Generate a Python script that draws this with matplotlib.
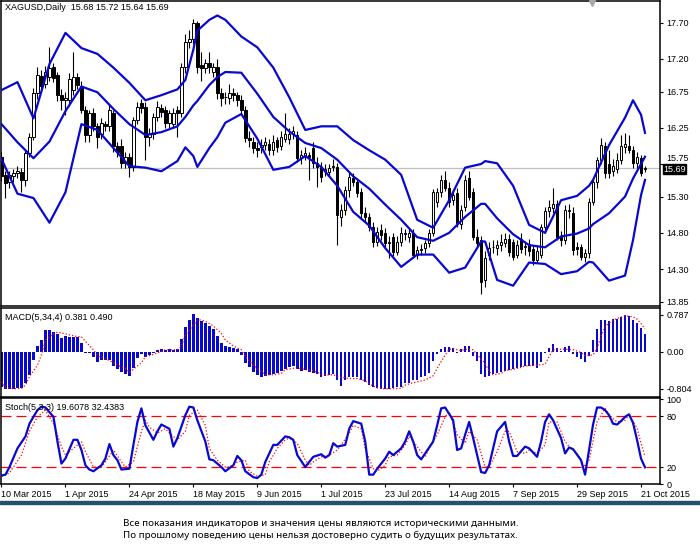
import numpy as np
import matplotlib
matplotlib.use('Agg')
import matplotlib.pyplot as plt
from matplotlib.patches import Rectangle
from matplotlib.transforms import ScaledTranslation

plt.rcParams['font.family'] = ['Liberation Sans', 'DejaVu Sans']
plt.rcParams['font.size'] = 6.5

# ---- XAGUSD daily candles (bar 0 = 10 Mar 2015) ----
opens = [15.85,15.60,15.50,15.58,15.62,15.64,15.53,15.90,16.12,16.73,
         16.97,16.85,16.95,17.09,16.98,16.70,16.63,16.63,16.77,16.95,
         16.82,16.50,16.15,16.45,16.27,16.17,16.30,16.27,16.45,16.00,
         16.00,15.76,15.85,15.71,16.36,16.59,16.54,16.12,16.17,16.40,
         16.52,16.50,16.31,16.30,16.50,16.45,17.09,17.43,17.48,17.70,
         17.12,17.07,17.14,17.02,17.09,16.73,16.67,16.66,16.73,16.70,
         16.63,16.50,16.11,16.06,15.97,15.98,16.01,16.03,15.94,16.08,
         16.00,16.10,16.10,16.17,16.15,15.83,15.88,15.87,15.97,15.76,
         15.71,15.66,15.64,15.71,15.71,15.02,15.12,15.39,15.56,15.50,
         15.36,15.07,15.02,14.88,14.68,14.84,14.80,14.66,14.74,14.54,
         14.68,14.78,14.74,14.80,14.50,14.56,14.59,14.66,14.80,15.22,
         15.36,15.53,15.42,15.25,15.35,14.92,15.15,15.56,15.36,14.74,
         14.70,14.15,14.50,14.61,14.59,14.63,14.66,14.72,14.67,14.50,
         14.72,14.60,14.65,14.58,14.43,14.50,14.88,15.10,15.14,15.20,
         14.74,14.70,15.10,15.07,14.60,14.60,14.47,14.52,15.23,15.50,
         15.80,16.00,15.75,15.65,15.68,15.80,15.98,16.00,15.95,15.76,
         15.83,15.68]
highs = [15.92,15.66,15.65,15.68,15.72,15.70,15.95,16.18,16.80,17.09,
         17.05,17.10,17.37,17.15,17.02,16.78,16.75,17.00,17.30,17.00,
         16.90,16.55,16.50,16.52,16.32,16.38,16.35,16.58,16.50,16.05,
         16.10,15.92,15.90,16.40,16.60,16.65,16.60,16.25,16.45,16.62,
         16.58,16.55,16.50,16.52,16.55,17.15,17.55,17.60,17.75,17.72,
         17.30,17.20,17.30,17.15,17.20,16.80,16.75,16.85,16.80,16.75,
         16.70,16.55,16.20,16.12,16.05,16.10,16.12,16.10,16.15,16.12,
         16.20,16.45,16.25,16.28,16.20,15.95,15.98,15.92,16.05,15.85,
         15.78,15.75,15.75,15.82,15.76,15.20,15.45,15.65,15.62,15.55,
         15.42,15.15,15.08,14.95,14.88,14.92,14.86,14.75,14.80,14.75,
         14.88,14.85,14.85,14.85,14.62,14.65,14.70,14.85,15.40,15.42,
         15.60,15.65,15.50,15.40,15.42,15.18,15.60,15.65,15.42,14.85,
         14.75,14.55,14.68,14.70,14.70,14.78,14.80,14.78,14.72,14.70,
         14.80,14.68,14.72,14.62,14.62,14.92,15.15,15.25,15.42,15.25,
         14.82,15.18,15.20,15.15,14.68,14.65,14.58,15.28,15.55,15.85,
         16.11,16.05,15.95,15.82,15.90,16.15,16.18,16.15,16.00,15.92,
         15.88,15.72]
lows = [15.52,15.28,15.42,15.50,15.55,15.37,15.45,15.85,16.08,16.65,
        16.75,16.80,16.90,16.88,16.62,16.50,16.43,16.55,16.70,16.78,
        16.45,16.05,16.05,16.20,15.97,16.10,16.20,16.20,15.92,15.85,
        15.70,15.70,15.57,15.65,16.30,16.45,15.81,16.00,16.10,16.35,
        16.40,16.25,16.25,16.25,16.12,16.40,17.00,17.35,17.40,17.00,
        16.90,17.00,17.00,16.95,16.65,16.55,16.58,16.58,16.62,16.55,
        16.45,16.05,15.98,15.90,15.85,15.90,15.95,15.88,15.88,15.92,
        15.95,16.05,16.02,16.10,15.78,15.75,15.80,15.53,15.70,15.43,
        15.50,15.58,15.58,15.65,14.63,14.90,15.05,15.30,15.45,15.30,
        15.00,14.95,14.82,14.60,14.62,14.70,14.60,14.45,14.48,14.50,
        14.62,14.70,14.68,14.45,14.44,14.50,14.52,14.60,14.75,15.15,
        15.30,15.38,15.15,15.18,14.88,14.85,15.10,15.25,14.70,14.60,
        13.96,14.05,14.42,14.52,14.50,14.55,14.60,14.48,14.42,14.45,
        14.52,14.50,14.48,14.35,14.38,14.45,14.80,15.02,15.08,14.70,
        14.62,14.65,15.00,14.50,14.50,14.42,14.40,14.45,15.18,15.42,
        15.75,15.55,15.55,15.58,15.62,15.75,15.90,15.90,15.70,15.70,
        15.58,15.64]
closes = [15.58,15.49,15.60,15.63,15.66,15.53,15.90,16.12,16.73,16.98,
          16.82,17.02,17.08,16.94,16.70,16.63,16.66,16.93,16.95,16.84,
          16.50,16.15,16.45,16.27,16.12,16.31,16.27,16.50,16.00,15.92,
          15.76,15.85,15.71,16.36,16.54,16.52,16.12,16.17,16.40,16.54,
          16.47,16.31,16.45,16.45,16.45,17.09,17.43,17.48,17.70,17.09,
          17.07,17.14,17.09,17.09,16.73,16.66,16.68,16.73,16.70,16.63,
          16.50,16.11,16.08,15.97,15.95,16.01,16.05,15.94,16.05,15.98,
          16.12,16.17,16.17,16.20,15.83,15.87,15.90,15.84,15.76,15.71,
          15.57,15.68,15.70,15.72,15.05,15.12,15.39,15.57,15.50,15.35,
          15.07,15.02,14.88,14.68,14.81,14.77,14.66,14.68,14.54,14.68,
          14.80,14.80,14.80,14.50,14.56,14.57,14.66,14.80,15.36,15.36,
          15.53,15.42,15.22,15.32,14.94,15.12,15.53,15.30,14.74,14.66,
          14.12,14.45,14.59,14.60,14.63,14.68,14.72,14.53,14.47,14.63,
          14.58,14.62,14.55,14.42,14.55,14.88,15.10,15.16,15.20,14.74,
          14.70,15.12,15.12,14.56,14.58,14.47,14.52,15.23,15.50,15.80,
          16.01,15.62,15.62,15.72,15.80,16.00,16.02,15.95,15.76,15.85,
          15.63,15.69]

# ---- Bollinger bands ----
band_bars = [0, 4, 8, 12, 16, 20, 24, 28, 32, 36, 40, 44, 46, 48, 49, 52, 54, 56,
             60, 64, 68, 72, 76, 80, 84, 88, 92, 96, 100, 104, 108, 112, 116, 120,
             121, 124, 128, 132, 136, 140, 144, 147, 148, 152, 156, 158, 160, 161]
bb_upper = [16.77, 16.88, 16.38, 17.13, 17.56, 17.35, 17.27, 17.08, 16.87, 16.63,
            16.70, 16.78, 16.91, 17.33, 17.59, 17.74, 17.80, 17.74, 17.51, 17.36,
            17.08, 16.67, 16.22, 16.27, 16.27, 16.08, 15.94, 15.81, 15.60, 14.98,
            14.87, 15.25, 15.70, 15.75, 15.79, 15.76, 15.45, 14.91, 14.80, 15.25,
            15.31, 15.45, 15.53, 16.01, 16.39, 16.63, 16.43, 16.18]
bb_middle = [16.30, 16.05, 15.83, 16.06, 16.48, 16.82, 16.74, 16.51, 16.30, 16.15,
             16.19, 16.27, 16.40, 16.56, 16.62, 16.84, 16.95, 17.02, 17.01, 16.72,
             16.40, 16.20, 16.04, 15.97, 15.81, 15.58, 15.41, 15.19, 14.98, 14.74,
             14.69, 14.80, 15.02, 15.20, 15.20, 15.00, 14.78, 14.63, 14.60, 14.75,
             14.79, 14.86, 14.92, 15.07, 15.30, 15.55, 15.75, 15.85]
bb_lower = [15.82, 15.34, 15.28, 14.94, 15.36, 16.30, 16.22, 15.97, 15.72, 15.70,
            15.65, 15.79, 15.98, 15.86, 15.71, 15.97, 16.12, 16.32, 16.44, 16.10,
            15.67, 15.71, 15.86, 15.71, 15.45, 15.09, 14.90, 14.59, 14.33, 14.50,
            14.50, 14.25, 14.32, 14.68, 14.68, 14.15, 14.07, 14.39, 14.37, 14.23,
            14.27, 14.40, 14.39, 14.14, 14.21, 14.70, 15.32, 15.53]

# ---- MACD(5,34,4) ----
macd_hist = [-0.77,-0.80,-0.80,-0.80,-0.79,-0.79,-0.68,-0.50,-0.19,0.11,
             0.25,0.47,0.47,0.43,0.38,0.29,0.34,0.32,0.32,0.31,
             0.19,-0.02,-0.04,-0.12,-0.22,-0.18,-0.19,-0.19,-0.32,-0.38,
             -0.43,-0.48,-0.52,-0.36,-0.14,-0.05,-0.12,-0.07,-0.02,0.04,
             0.06,0.04,0.05,0.04,0.05,0.27,0.52,0.67,0.80,0.72,
             0.65,0.61,0.55,0.48,0.34,0.19,0.12,0.09,0.07,0.06,
             -0.07,-0.24,-0.34,-0.43,-0.50,-0.54,-0.52,-0.50,-0.48,-0.47,
             -0.41,-0.38,-0.34,-0.32,-0.38,-0.41,-0.39,-0.43,-0.45,-0.48,
             -0.54,-0.52,-0.50,-0.48,-0.62,-0.74,-0.61,-0.55,-0.55,-0.55,
             -0.61,-0.65,-0.72,-0.76,-0.79,-0.80,-0.80,-0.80,-0.79,-0.76,
             -0.77,-0.68,-0.67,-0.62,-0.61,-0.54,-0.52,-0.45,-0.20,-0.05,
             0.05,0.09,0.09,0.07,-0.03,0.05,0.12,0.12,-0.09,-0.21,
             -0.48,-0.54,-0.52,-0.48,-0.47,-0.43,-0.41,-0.39,-0.38,-0.36,
             -0.34,-0.32,-0.31,-0.32,-0.36,-0.22,-0.04,0.07,0.16,0.07,
             0.02,0.09,0.12,-0.05,-0.12,-0.16,-0.23,-0.09,0.25,0.48,
             0.68,0.67,0.65,0.70,0.70,0.74,0.787,0.76,0.68,0.61,
             0.50,0.381]
macd_sig_bars = [0,1,3,5,6,7,9,10,11,13,14,16,19,20,21,23,24,26,27,29,31,32,33,35,
                 36,38,40,41,44,45,46,48,49,50,51,53,55,56,58,60,61,63,65,66,68,70,
                 71,73,75,76,78,80,81,83,85,87,89,91,92,94,96,98,100,101,103,105,106,
                 108,109,111,112,113,115,116,118,119,121,122,123,125,126,128,130,131,
                 134,136,137,138,140,141,143,145,146,148,149,150,151,153,155,156,158,
                 159,160,161]
macd_sig = [-0.65,-0.77,-0.80,-0.79,-0.72,-0.54,-0.29,-0.07,0.25,0.38,0.42,0.38,0.32,
            0.32,0.22,0.04,-0.09,-0.16,-0.19,-0.29,-0.36,-0.45,-0.38,-0.24,-0.11,-0.06,
            0.0,0.04,0.04,0.11,0.36,0.57,0.68,0.68,0.65,0.55,0.39,0.25,0.12,0.04,-0.11,
            -0.29,-0.43,-0.50,-0.50,-0.47,-0.39,-0.36,-0.36,-0.39,-0.41,-0.48,-0.50,
            -0.50,-0.55,-0.58,-0.58,-0.63,-0.70,-0.78,-0.80,-0.80,-0.79,-0.72,-0.67,
            -0.63,-0.61,-0.52,-0.36,-0.07,0.05,0.06,0.02,0.05,0.04,-0.07,-0.25,-0.43,
            -0.50,-0.47,-0.41,-0.38,-0.34,-0.31,-0.29,-0.27,-0.11,0.04,0.05,0.05,0.04,
            -0.02,-0.09,-0.07,0.07,0.32,0.54,0.68,0.74,0.77,0.75,0.70,0.60,0.49]

# ---- Stochastic(5,3,3) ----
stoch_k_bars = [0,1,2,4,6,7,9,10,11,13,14,15,16,18,19,20,21,22,23,25,
                26,27,28,29,30,32,33,34,35,36,38,39,40,42,43,44,46,47,48,49,
                51,52,53,55,56,58,59,60,61,63,64,65,66,68,69,71,72,73,74,76,
                77,78,80,81,82,83,84,86,87,88,90,91,92,93,94,96,97,98,100,101,
                102,103,104,105,106,108,109,110,111,113,114,115,116,117,118,120,121,122,123,124,
                126,127,128,129,131,132,134,135,136,137,138,140,141,142,143,145,146,147,148,149,
                150,151,152,153,154,155,156,157,158,159,160,161]
stoch_k = [10,11,20,42,56,71,87,91,90,79,50,24,30,52,52,40,22,17,15,22,
           30,47,34,28,17,18,46,73,89,69,52,62,70,65,44,54,81,91,90,75,
           50,29,28,20,15,22,33,28,15,8,7,11,26,46,46,56,55,52,34,20,
           26,32,35,31,34,48,44,46,65,74,71,50,11,11,18,30,38,34,42,50,
           62,50,34,29,36,50,69,89,90,75,40,42,58,73,54,14,13,22,42,62,
           73,50,33,33,44,42,32,50,73,82,75,54,36,43,41,28,11,40,70,90,
           90,87,81,71,70,74,79,82,72,52,30,19.6078]
stoch_d_bars = [0,2,5,7,9,11,13,15,16,18,20,21,23,25,26,28,30,31,33,35,
                36,37,39,41,42,44,46,47,49,51,52,54,56,57,59,61,62,64,66,67,
                69,71,72,74,76,77,78,80,82,84,85,87,88,90,91,93,94,96,97,99,
                101,102,104,106,107,109,111,112,114,116,117,119,121,122,124,126,127,129,131,132,
                134,136,137,139,141,142,144,146,147,149,151,152,154,156,157,159,160,161]
stoch_d = [9,13,34,62,79,87,71,44,34,42,50,38,20,20,26,40,26,20,26,62,
           75,67,60,65,60,52,62,81,87,69,42,28,20,20,26,28,15,9,11,26,
           42,52,54,48,28,22,26,32,34,40,46,60,69,65,42,18,15,22,32,34,
           46,56,44,32,42,58,79,85,58,48,62,52,20,20,38,62,62,38,36,40,
           36,46,73,73,50,44,36,20,28,73,89,81,73,75,81,66,48,32.4383]
stoch_levels = [20, 80]

# ---- axis labels ----
date_ticks = [0, 16, 32, 48, 64, 80, 96, 112, 128, 144, 160]
date_labels = ['10 Mar 2015', '1 Apr 2015', '24 Apr 2015', '18 May 2015', '9 Jun 2015',
               '1 Jul 2015', '23 Jul 2015', '14 Aug 2015', '7 Sep 2015', '29 Sep 2015',
               '21 Oct 2015']
price_ticks = [17.70, 17.20, 16.75, 16.25, 15.75, 15.30, 14.80, 14.30, 13.85]
macd_ticks = [0.787, 0.0, -0.804]
macd_tick_labels = ['0.787', '0.00', '-0.804']
stoch_ticks = [100, 80, 20, 0]

header = 'XAGUSD,Daily  15.68 15.72 15.64 15.69'
macd_title = 'MACD(5,34,4) 0.381 0.490'
stoch_title = 'Stoch(5,3,3) 19.6078 32.4383'
footer = ['Все показания индикаторов и значения цены являются историческими данными.',
          'По прошлому поведению цены нельзя достоверно судить о будущих результатах.']

BLUE = '#0808d0'
W, H = 700, 552

fig = plt.figure(figsize=(7.0, 5.52), dpi=100)
fig.patch.set_facecolor('white')

def px_box(top, bottom, right=660, left=0.5):
    return [left / W, 1 - bottom / H, (right - left) / W, (bottom - top) / H]

ax = fig.add_axes(px_box(1, 306))
ax_m = fig.add_axes(px_box(308, 397), sharex=ax)
ax_s = fig.add_axes(px_box(398, 484), sharex=ax)

o = np.array(opens); c = np.array(closes)
hi = np.array(highs); lo = np.array(lows)
bars = np.arange(len(c))

# candles
ax.vlines(bars, lo, hi, color='black', lw=0.8, zorder=2)
body_lo = np.minimum(o, c)
body_h = np.maximum(np.abs(c - o), 0.004)
body_col = np.where(c >= o, 'white', 'black')
ax.bar(bars, body_h, bottom=body_lo, width=0.6, color=body_col,
       edgecolor='black', linewidth=0.7, zorder=3)

# bollinger bands
for band in (bb_upper, bb_middle, bb_lower):
    ax.plot(band_bars, band, color=BLUE, lw=1.6, zorder=4, solid_joinstyle='round')

ax.axhline(c[-1], color='#c0c0c0', lw=0.9, zorder=1)
ax.set_ylim(13.79, 18.0)
ax.set_yticks(price_ticks)
ax.set_yticklabels(['%.2f' % p for p in price_ticks])
ax.annotate('%.2f' % c[-1], xy=(1.0, c[-1]), xycoords=('axes fraction', 'data'),
            xytext=(2.5, -0.5), textcoords='offset points', ha='left', va='center',
            color='white', fontsize=6.5, zorder=10, annotation_clip=False,
            bbox=dict(boxstyle='square,pad=0.02', fc='black', ec='black'))
ax.plot(592 / 660, 0.995, marker='v', color='#a8a8a8', markersize=5,
        transform=ax.transAxes, clip_on=False, zorder=6)

# MACD
ax_m.bar(bars, macd_hist, width=0.62, color=BLUE, zorder=2)
ax_m.plot(macd_sig_bars, macd_sig, color='red', lw=0.9, ls=(0, (1, 1.6)), zorder=3)
ax_m.set_ylim(-0.976, 0.937)
ax_m.set_yticks(macd_ticks)
ax_m.set_yticklabels(macd_tick_labels)

# Stochastic
for lvl in stoch_levels:
    ax_s.axhline(lvl, color='red', lw=0.9, ls=(0, (8, 4)), zorder=1)
ax_s.plot(stoch_d_bars, stoch_d, color='red', lw=0.9, ls=(0, (1, 1.6)), zorder=3)
ax_s.plot(stoch_k_bars, stoch_k, color=BLUE, lw=1.6, zorder=4)
ax_s.set_ylim(0, 101.2)
ax_s.set_yticks(stoch_ticks)
ax_s.set_yticklabels([str(v) for v in stoch_ticks])
ylabs = ax_s.get_yticklabels()
ylabs[0].set_va('top')
ylabs[-1].set_va('bottom')

ax_s.set_xlim(-0.25, 164.75)
ax_s.set_xticks(date_ticks)
ax_s.set_xticklabels(date_labels, ha='left')

for a in (ax, ax_m, ax_s):
    a.set_facecolor('white')
    a.yaxis.tick_right()
    a.tick_params(axis='y', direction='out', length=2.5, width=0.8, pad=2,
                  labelsize=6.5, colors='black')
    for sp in a.spines.values():
        sp.set_linewidth(1.1)
        sp.set_color('black')
for a in (ax, ax_m):
    a.tick_params(axis='x', bottom=False, labelbottom=False)
ax_s.tick_params(axis='x', direction='out', length=2.5, width=0.8, pad=2, labelsize=6.5)

# the 15.75 label sits just above the current-price box, nudge it clear
lab_1575 = ax.get_yticklabels()[price_ticks.index(15.75)]
lab_1575.set_transform(lab_1575.get_transform()
                       + ScaledTranslation(0, 6.5 / 100, fig.dpi_scale_trans))

# panel captions
fig.text(5 / W, 1 - 8 / H, header, fontsize=6.5, va='center', ha='left', zorder=1)
fig.text(5 / W, 1 - 317 / H, macd_title, fontsize=6.5, va='center', ha='left')
fig.text(5 / W, 1 - 407 / H, stoch_title, fontsize=6.5, va='center', ha='left', zorder=0)

# bottom band and disclaimer
fig.add_artist(Rectangle((0, 1 - 504 / H), 1, 3 / H, transform=fig.transFigure,
                         color='#24506f', zorder=0))
fig.text(123 / W, 1 - 523 / H, footer[0], fontsize=7, va='center', ha='left',
         family=['Noto Sans', 'DejaVu Sans'])
fig.text(123 / W, 1 - 535 / H, footer[1], fontsize=7, va='center', ha='left',
         family=['Noto Sans', 'DejaVu Sans'])

fig.savefig('out.png', dpi=100, facecolor='white')
